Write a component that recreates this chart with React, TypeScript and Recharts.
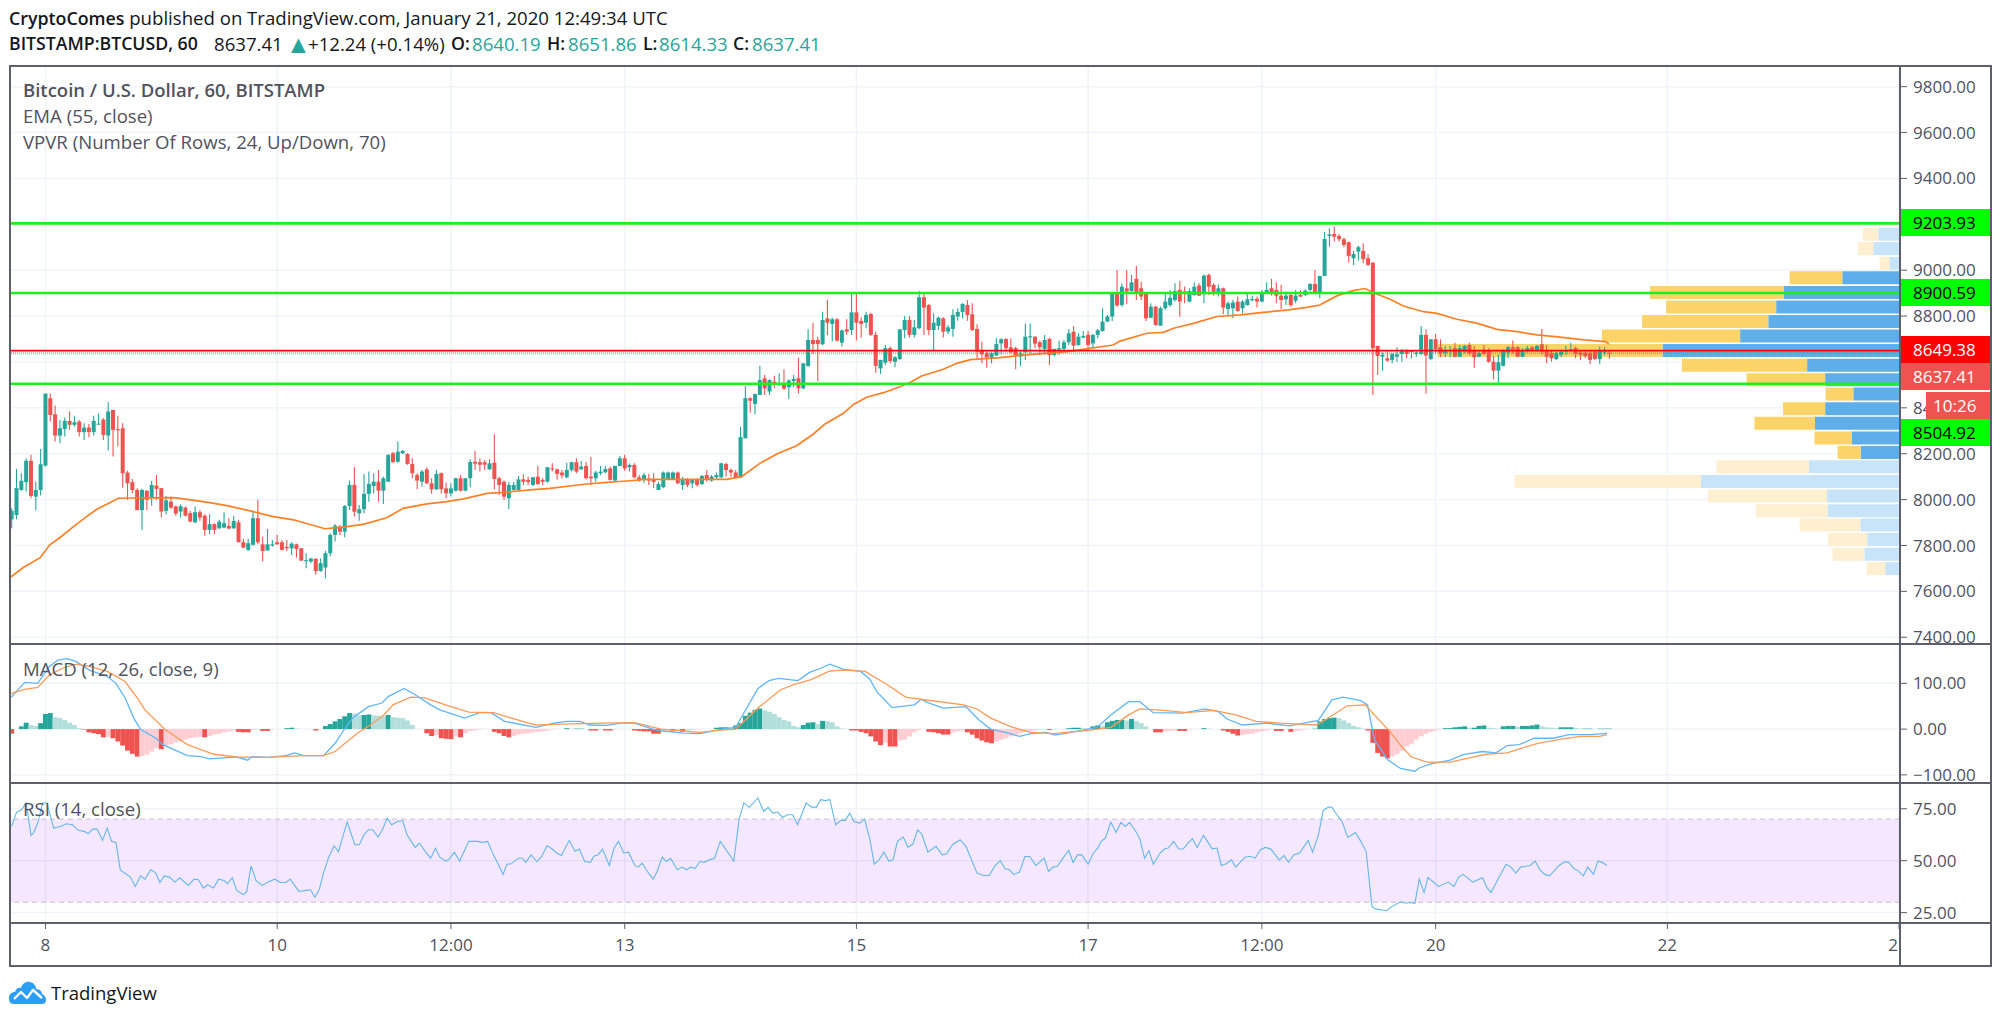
import React from "react";
import { ComposedChart, Bar, Line, XAxis, YAxis, CartesianGrid, ReferenceLine, ReferenceArea, Cell } from "recharts";

const FONT = '"Open Sans", "Noto Sans", sans-serif';
const TEXT = "#50535e";
const FRAME = "#5d606b";
const GRID = "#f0f3f7";
const UP = "#26a69a";
const DOWN = "#ef5350";
const GREEN_LINE = "#1df01d";

type C = [number, number, number, number];

// hourly candles [open, high, low, close], first bar 7 hours before the "8" tick
const candlesA: C[] = [
  [7914,7962,7875,7951],[7933,8134,7914,8050],[8042,8115,8038,8082],[8076,8180,8035,8169],[8169,8195,8006,8016],[8013,8079,7952,8042],[8042,8221,8018,8154],
  [8148,8462,8144,8462],[8442,8462,8340,8369],[8372,8410,8253,8279],[8279,8347,8246,8311],[8308,8358,8275,8343],[8343,8384,8304,8326],[8326,8366,8318,8337],[8340,8347,8275,8294],[8294,8333,8260,8314],[8314,8329,8272,8294],
  [8294,8366,8279,8343],[8327,8376,8326,8331],[8349,8355,8260,8282],[8279,8424,8214,8384],[8391,8391,8188,8304],[8307,8366,8231,8302],[8311,8333,8052,8115],[8118,8125,7999,8071],[8076,8090,8028,8042],[8042,8050,7954,7954],
  [7954,8047,7868,8042],[8038,8042,7955,7999],[8009,8082,7974,8064],[8061,8108,7999,8047],[8050,8050,7922,7948],[7951,8016,7936,7997],[7991,8013,7959,7965],[7970,7974,7930,7939],[7948,7980,7922,7971],[7965,7970,7926,7930],
  [7941,7951,7901,7904],[7901,7970,7897,7945],[7945,7955,7907,7922],[7930,7936,7842,7868],[7868,7936,7849,7893],[7893,7897,7849,7868],[7875,7912,7872,7904],[7878,7945,7875,7897],[7885,7919,7871,7874],[7875,7930,7872,7907],
  [7901,7912,7814,7814],[7814,7829,7788,7791],[7781,7829,7776,7810],[7803,7951,7800,7919],[7919,7999,7805,7814],[7805,7839,7730,7776],[7778,7872,7778,7805],[7800,7824,7795,7805],[7814,7846,7803,7805],[7814,7824,7778,7781],
  [7794,7824,7776,7788],[7788,7814,7759,7808],[7805,7808,7747,7785],[7788,7788,7733,7734],[7731,7766,7701,7736],[7730,7747,7723,7743],[7742,7744,7672,7689],[7689,7744,7686,7723],[7704,7776,7657,7766],[7766,7853,7752,7846],
];
const candlesB: C[] = [
  [7846,7894,7817,7886],[7882,7889,7846,7860],[7860,7977,7836,7972],[7972,8083,7955,8064],[8064,8141,7926,7947],[7940,7977,7908,7958],[7958,8112,7940,8025],[8025,8122,7991,8068],[8059,8115,8027,8078],[8078,8129,7991,8039],
  [8039,8100,7981,8093],[8078,8199,8078,8194],[8202,8209,8158,8164],[8165,8253,8161,8209],[8202,8216,8199,8212],[8199,8202,8152,8155],[8155,8180,8093,8115],[8107,8115,8045,8083],[8078,8129,8056,8122],[8132,8141,8068,8071],
  [8071,8093,8025,8045],[8045,8129,8042,8112],[8115,8118,8027,8045],[8049,8074,8006,8027],[8027,8071,8013,8049],[8039,8093,8035,8093],[8093,8107,8035,8039],[8039,8093,8035,8093],[8093,8176,8054,8164],[8165,8213,8129,8157],
  [8163,8180,8122,8152],[8163,8173,8129,8152],[8132,8177,8129,8158],[8161,8285,8045,8090],[8093,8100,8020,8064],[8078,8083,7998,8013],[8006,8078,7959,8064],[8042,8078,8039,8064],[8042,8103,8035,8088],[8088,8110,8064,8078],
  [8086,8100,8064,8077],[8064,8100,8059,8097],[8100,8147,8064,8068],[8086,8093,8064,8078],[8078,8141,8074,8141],[8136,8158,8122,8132],[8132,8136,8086,8112],[8118,8129,8093,8106],[8097,8161,8093,8129],[8129,8165,8122,8163],
  [8163,8180,8115,8122],[8132,8168,8129,8144],[8147,8165,8088,8093],[8100,8187,8064,8093],[8093,8126,8078,8118],[8115,8147,8107,8122],[8119,8147,8115,8133],[8136,8144,8083,8086],[8083,8147,8078,8147],[8147,8190,8144,8180],
  [8180,8195,8126,8136],[8141,8158,8122,8151],[8151,8158,8093,8097],[8097,8107,8078,8086],[8086,8117,8074,8107],[8091,8112,8064,8083],
];
const candlesC: C[] = [
  [8086,8115,8049,8077],[8042,8078,8042,8068],[8054,8122,8049,8118],[8089,8122,8086,8118],[8090,8122,8086,8118],[8118,8122,8068,8071],[8064,8100,8042,8086],[8086,8093,8054,8064],[8071,8088,8049,8086],[8088,8093,8056,8064],
  [8068,8107,8064,8103],[8107,8129,8078,8088],[8083,8107,8078,8100],[8097,8118,8093,8107],[8097,8161,8093,8158],[8155,8161,8100,8129],[8129,8136,8100,8118],[8118,8129,8093,8097],[8097,8318,8093,8272],[8267,8495,8267,8442],
  [8442,8446,8379,8431],[8417,8463,8372,8460],[8456,8583,8456,8521],[8529,8543,8456,8485],[8471,8524,8456,8521],[8514,8540,8485,8504],[8500,8551,8495,8504],[8504,8568,8478,8484],[8490,8524,8437,8519],[8517,8543,8490,8526],
  [8529,8619,8463,8485],[8485,8594,8481,8594],[8582,8742,8580,8696],[8696,8771,8635,8678],[8696,8710,8517,8678],[8677,8819,8674,8783],[8790,8870,8718,8771],[8766,8793,8689,8786],[8786,8790,8689,8693],[8684,8742,8667,8737],
  [8742,8786,8718,8732],[8739,8896,8718,8816],[8816,8896,8693,8771],[8779,8795,8707,8766],[8771,8819,8747,8805],[8809,8815,8713,8718],[8718,8732,8553,8583],[8572,8609,8548,8609],[8597,8674,8587,8660],[8660,8667,8594,8604],
  [8601,8626,8577,8620],[8613,8742,8609,8742],[8739,8800,8703,8783],[8783,8800,8707,8718],[8718,8783,8707,8751],[8747,8909,8742,8882],[8882,8896,8718,8837],[8848,8853,8718,8739],[8739,8812,8652,8771],[8757,8798,8739,8793],
  [8790,8795,8707,8732],[8732,8761,8722,8751],[8744,8830,8710,8805],[8798,8834,8780,8818],[8818,8856,8790,8853],[8848,8870,8780,8805],
];
const candlesD: C[] = [
  [8808,8856,8735,8739],[8744,8764,8616,8645],[8648,8689,8594,8633],[8638,8652,8575,8620],[8616,8645,8594,8638],[8628,8703,8626,8678],[8681,8703,8633,8699],[8700,8703,8645,8660],[8664,8703,8638,8642],[8660,8667,8568,8628],
  [8623,8652,8583,8638],[8642,8768,8609,8710],[8707,8768,8638,8712],[8710,8712,8660,8680],[8686,8692,8630,8664],[8657,8718,8633,8696],[8700,8706,8587,8630],[8630,8657,8626,8657],[8654,8692,8630,8660],[8657,8696,8645,8686],
  [8686,8744,8674,8725],[8732,8757,8645,8671],[8674,8725,8671,8710],[8706,8735,8703,8713],[8718,8735,8652,8674],[8681,8721,8657,8718],[8718,8744,8703,8738],[8735,8834,8732,8776],[8776,8805,8773,8798],[8798,8904,8779,8899],
  [8899,9001,8841,8846],[8848,8943,8841,8928],[8921,9001,8851,8907],[8909,8979,8907,8947],[8962,9018,8870,8904],[8921,8950,8870,8885],[8899,8904,8779,8790],[8793,8856,8790,8841],[8841,8845,8758,8761],[8758,8841,8758,8834],
  [8834,8904,8827,8863],[8848,8914,8841,8880],[8870,8943,8863,8909],[8914,8953,8798,8863],[8907,8928,8856,8899],[8863,8921,8860,8909],[8892,8947,8889,8928],[8933,8943,8888,8889],[8895,8982,8856,8976],[8979,8986,8892,8928],
  [8936,8943,8889,8904],[8904,8938,8885,8921],[8921,8924,8808,8837],[8831,8863,8805,8856],[8834,8870,8790,8859],[8863,8885,8819,8822],[8834,8870,8812,8863],[8848,8899,8846,8873],[8869,8889,8863,8875],[8875,8885,8837,8863],
  [8863,8914,8860,8899],[8899,8947,8895,8914],[8921,8962,8889,8899],[8914,8947,8856,8889],[8889,8936,8831,8870],[8873,8907,8848,8889],[8892,8904,8841,8848],
];
const candlesE: C[] = [
  [8867,8914,8856,8889],[8892,8914,8882,8885],[8892,8917,8888,8911],[8914,8943,8907,8940],[8940,9001,8899,8902],[8902,8975,8878,8975],[8975,9168,8975,9136],[9149,9183,9103,9156],[9158,9190,9125,9146],[9149,9158,9125,9135],
  [9135,9143,9100,9110],[9122,9125,9033,9062],[9052,9085,9023,9071],[9081,9106,9042,9100],[9084,9117,9030,9048],[9052,9069,9018,9023],[9033,9033,8456,8660],[8670,8670,8543,8626],[8623,8641,8562,8631],[8616,8648,8601,8606],
  [8609,8638,8594,8635],[8623,8664,8601,8633],[8635,8655,8601,8649],[8649,8655,8616,8635],[8644,8652,8616,8648],[8635,8649,8623,8641],[8635,8757,8631,8718],[8718,8742,8463,8628],[8613,8699,8609,8699],[8699,8722,8638,8655],
  [8664,8699,8620,8638],[8638,8670,8620,8652],[8648,8670,8620,8652],[8660,8684,8620,8623],[8623,8674,8620,8660],[8645,8674,8638,8670],[8674,8684,8631,8638],[8649,8670,8575,8620],[8623,8649,8620,8638],[8652,8674,8631,8635],
  [8652,8660,8597,8601],[8601,8626,8524,8562],[8562,8631,8507,8599],[8583,8655,8580,8652],[8641,8670,8616,8664],[8664,8693,8635,8655],[8664,8670,8620,8623],[8623,8660,8620,8652],[8649,8671,8641,8660],[8664,8670,8645,8649],
  [8649,8674,8645,8670],[8677,8744,8631,8645],[8649,8674,8594,8623],[8638,8649,8601,8616],[8612,8645,8609,8638],[8631,8652,8620,8645],[8645,8670,8631,8652],[8649,8684,8645,8655],[8660,8667,8616,8635],[8641,8652,8609,8631],
  [8641,8648,8616,8626],[8638,8649,8591,8609],[8645,8652,8609,8613],[8612,8667,8590,8649],[8641,8664,8631,8652],[8640.19,8651.86,8614.33,8637.41],
];

// EMA (55, close): [hour, price]
const emaPoints: [number, number][] = [
  [-7.35,7660],[-4.6,7704],[-1.1,7747],[0.9,7803],[3,7835],[5.8,7882],[8.5,7926],[10.7,7959],[12.7,7980],[15.1,8006],[17.5,8007],[26.5,8009],[28.6,8003],[34,7987],[37.6,7974],[42.4,7951],[47.2,7926],[51.4,7912],[57.9,7873],[62.4,7882],[65.8,7892],[70.7,7921],[74.1,7962],[79,7981],[83.1,7991],[86.6,8003],[91.5,8027],[94.2,8030],[100.4,8042],[104.5,8049],[112.1,8068],[116.3,8075],[120.4,8081],[124.5,8088],[141.1,8088],[144.2,8100],[148,8158],[151.5,8199],[155.6,8235],[159.1,8286],[161.5,8330],[165.3,8376],[167.4,8415],[170.1,8446],[173.6,8466],[177,8492],[179.1,8510],[181.5,8539],[186,8568],[188.8,8594],[191.6,8610],[197.8,8619],[202.6,8630],[211.6,8645],[221.2,8674],[222.6,8691],[228.2,8725],[231.6,8729],[233.7,8747],[237.8,8768],[242.7,8798],[247.5,8805],[252.3,8816],[257.5,8827],[261.3,8838],[264,8848],[267.5,8888],[270.9,8911],[273.4,8920],[275.1,8902],[278.6,8873],[281.3,8844],[285.5,8819],[288.3,8812],[292.4,8786],[296.5,8769],[300.7,8742],[304.9,8732],[309,8718],[313.8,8708],[318.7,8696],[323.2,8689],[323.9,8678],
];

const macdLine: [number, number][] = [
  [-7.1,70],[-4.3,102],[-1.6,100],[0.8,137],[2.6,151],[4.4,154],[6.3,148],[9.1,129],[12.8,115],[14.6,100],[16.5,68],[18.3,24],[19.7,-1],[22.9,-20],[24.3,-34],[29.4,-58],[32.2,-60],[34,-65],[36.8,-63],[39.6,-61],[41.9,-68],[42.8,-60],[46,-62],[49.8,-58],[51.6,-52],[53.5,-58],[57.6,-58],[60,-31],[61.8,-2],[63.6,24],[66.9,49],[69.7,57],[71,71],[74.3,89],[76.6,75],[79.8,53],[81.7,42],[86.8,24],[90,36],[92.3,36],[95.1,17],[101.6,4],[105.3,13],[108,17],[110.8,17],[112.7,9],[116.4,8],[119.2,13],[122,13],[126.6,-3],[132.1,-9],[135.6,-10],[140.2,0],[143,4],[147.6,89],[149.9,106],[151.8,111],[155.9,106],[158.3,124],[160.6,133],[162.5,142],[165.2,131],[168.9,126],[170.8,109],[172.2,82],[175.4,47],[180,53],[181.4,65],[182.8,58],[186,46],[190.7,49],[193.4,20],[195.8,0],[199.5,-9],[201.8,-16],[204.1,-10],[207.3,-7],[209.1,-13],[212.4,-7],[216,0],[217.9,4],[220.7,31],[224.4,60],[226.7,60],[229.5,36],[235.5,35],[240.2,44],[243,38],[244.8,22],[248,9],[253.1,13],[257.7,7],[263.7,19],[266.5,64],[268.8,70],[272.5,62],[273.9,53],[275.3,-23],[278.1,-67],[280.7,-86],[283.7,-92],[284.6,-85],[287,-76],[291,-68],[293.7,-56],[297.7,-49],[300.5,-52],[302.8,-36],[305.3,-34],[308.4,-20],[312.4,-20],[315.6,-12],[320.3,-12],[323.5,-9.5],
];
const signalLine: [number, number][] = [
  [-7.1,78],[-4.3,87],[-1.6,91],[0.8,118],[3.5,133],[6.3,142],[9.1,137],[12.8,126],[16.5,104],[19.3,64],[20.6,42],[24.8,-1],[29.4,-34],[34.9,-55],[39.6,-61],[46,-62],[53.5,-58],[57.6,-58],[60,-49],[64.6,-9],[67.3,9],[70.1,31],[72,53],[75.7,70],[78.4,69],[84,49],[87.7,37],[92.8,36],[99.7,14],[101.6,9],[107.1,11],[115.4,13],[122,14],[127.5,0],[135.6,-7],[139.3,-3],[143,0],[147.6,46],[152.3,86],[155,97],[158.6,108],[162.5,127],[165.2,129],[169.8,126],[174.4,97],[178.2,70],[183.7,62],[190.2,53],[193,44],[195.8,24],[200.4,4],[204.1,-7],[208.7,-10],[216.1,-3],[220.7,4],[224.4,31],[226.7,44],[231.8,41],[236.4,36],[242,41],[246.6,31],[250.8,17],[255.9,13],[263.3,9],[265.1,20],[269.7,51],[273.4,53],[275.3,31],[278.5,-5],[280.7,-35],[283,-61],[286.2,-72],[291,-72],[295.7,-61],[298.5,-55],[302.8,-52],[306,-41],[309.2,-31],[314,-22],[318,-16],[321.9,-16],[323.5,-12],
];
// one value per candle
const macdHist: number[] = [
  -10,0,6,14,9,7,13,
  33,35,26,24,20,14,9,2,-1,-7,
  -9,-11,-18,-17,-20,-27,-36,-47,-54,-60,
  -59,-56,-49,-41,-44,-36,-33,-29,-27,-23,
  -20,-18,-17,-18,-15,-12,-10,-7,-5,-3,
  -6,-7,-7,-2,-1,-4,-4,-1,0,0,
  2,3,1,0,0,0,-3,-1,7,11,
  17,22,28,35,34,30,31,32,30,29,
  28,31,26,25,24,19,9,0,0,-9,
  -15,-13,-20,-21,-22,-16,-18,-9,-4,-3,
  -1,0,0,-6,-9,-15,-18,-15,-12,-10,
  -9,-7,-6,-5,-3,-1,0,0,2,1,
  1,1,0,-3,-3,-1,-3,-3,-1,0,
  0,0,-3,-4,-5,-5,-10,-10,-5,-3,
  -5,-3,-6,-3,-2,-1,0,0,0,3,
  4,4,3,8,13,29,36,42,45,41,
  38,33,26,20,17,7,4,9,14,15,
  11,18,17,15,6,1,0,-3,-3,-6,
  -9,-16,-27,-35,-30,-38,-38,-25,-23,-16,
  -7,-2,0,-6,-7,-9,-12,-12,-7,-5,
  -3,-7,-12,-20,-25,-29,-31,-27,-23,-20,
  -16,-12,-9,-7,-4,-3,-1,0,-2,-1,
  0,0,2,3,3,2,1,6,8,7,
  15,18,20,20,19,22,18,13,6,0,
  -7,-7,-5,-4,-3,-4,-4,-1,0,0,
  2,1,0,0,-3,-6,-10,-14,-13,-11,
  -10,-7,-5,-3,-1,-4,-4,-1,-6,-4,
  -3,-1,0,1,17,22,24,25,24,19,
  13,7,4,1,-3,-30,-52,-60,-64,-60,
  -55,-48,-38,-32,-23,-16,-10,-6,-3,-1,
  2,2,4,5,6,3,3,7,8,3,
  2,1,6,7,7,5,7,7,8,10,
  6,4,3,2,4,4,4,3,1,1,
  1,0,1,1,1,
];

const rsiPoints: [number, number][] = [
  [-7,66.5],[-6,73.3],[-5,74.5],[-4,77.8],[-3,62.2],[-2.5,63.3],[-1.6,68.1],[-.6,77.8],[.3,77.8],[1.7,65.7],[3.1,66.5],[4.3,67.8],[5.6,67.3],[6.8,64.6],[8,64.1],[8.9,63],[9.8,65.2],[10.7,65.2],[11.8,59.8],[12.8,65.7],[13.7,59.3],[14.6,58.8],[15.5,45.6],[17.6,42.1],[18.6,37.6],[19.7,42.7],[20.6,41.1],[21.8,45.6],[22.8,44.3],[23.7,39.5],[24.6,42.7],[25.7,42.1],[26.8,39.7],[27.8,41.8],[29.6,38.1],[30.8,41.1],[31.7,40.8],[32.7,36.8],[33.6,38.4],[34.8,36.8],[35.9,41.1],[37,40.5],[37.7,38.9],[38.7,41.8],[39.6,35.7],[41,33.7],[41.7,35.2],[42.6,47.5],[43.6,40.5],[44.9,38.1],[46.1,39.7],[47.5,41.1],[48.7,39.5],[49.8,39.5],[50.7,41.1],[52.5,35.2],[53.9,35.7],[54.9,36],[55.8,32.4],[56.7,36],[57.6,44],[58.6,51.2],[59.8,57.2],[60.7,54.3],[61.8,63.3],[62.5,68.6],[64.1,57.7],[65,57.7],[66,62.5],[66.9,64.9],[67.8,64.9],[68.9,61.4],[69.8,64.9],[70.8,70.5],[71.7,67.3],[72.9,68.9],[74,69.2],[74.9,62.5],[75.9,58.8],[76.6,56.4],[77.5,58.5],[78.4,55.3],[79.8,51.2],[80.8,56],[81.7,51.7],[82.9,49.8],[83.5,50.4],[84.7,54.1],[85.8,49.8],[87.7,59.3],[89.5,59.3],[90.5,58.8],[91.6,59.3],[92.8,52.8],[93.7,48.8],[94.8,43.4],[95.6,48.3],[96.5,48.5],[97.9,51.2],[98.8,51.2],[99.5,49.2],[100.6,52.8],[101.8,49.6],[102.7,51.7],[103.9,57.2],[104.8,56],[105.9,53.7],[106.9,52.5],[108.5,59.8],[109.7,54.5],[110.6,55.6],[111.7,49.6],[112.9,49.2],[113.6,52.1],[114.5,52.8],[115.4,55.6],[116.8,47.7],[117.8,56],[118.7,59.3],[119.8,53.7],[120.8,54.1],[122.1,47.7],[122.8,46.9],[123.6,48.8],[124.7,44.8],[125.9,41.1],[126.7,44.8],[127.8,51.7],[128.6,49.6],[129.5,51.2],[130.9,45.6],[131.9,46.9],[132.8,45.6],[133.7,46.9],[134.6,46.3],[135.6,49.6],
  [136.5,49.2],[137.5,50.4],[138.6,51.2],[139.8,59.3],[142.6,49.8],[143.7,70],[144.7,77.8],[145.8,75.7],[147.6,80.2],[148.8,73.7],[149.7,75.7],[150.7,72.9],[151.7,73.4],[152.7,70.8],[153.7,72.1],[154.8,72.1],[155.8,67.3],[157.6,77.8],[158.7,75.8],[159.7,75.8],[160.6,79.4],[161.5,78.9],[162.5,79.4],[163.7,67.3],[164.8,69.4],[165.7,69.4],[166.6,72.9],[167.5,68.9],[168.7,68.1],[169.7,70],[170.8,60.1],[171.7,48.3],[172.6,50.1],[173.7,54.1],[174.7,49.8],[175.6,50.4],[176.5,59.3],[177.7,61.4],[178.7,56.5],[179.7,58],[180.7,64.9],[181.6,62.5],[182.8,54.1],[184.5,56.9],[185.8,52.8],[186.7,53.3],[187.9,57.7],[189.5,60.1],[190.7,56.9],[193,44],[194.4,42.9],[195.5,42.9],[196.7,47.5],[197.8,50],[198.8,46.1],[199.7,45.6],[200.6,43.4],[201.8,44.5],[202.9,52],[203.9,52],[205.2,47.7],[206.9,51.2],[207.8,44.8],[208.7,46.9],[209.6,47.2],[210.8,51.2],[212,54.9],[212.9,49.2],[213.8,52.8],[214.7,52.8],[216,48.3],[217.1,53.7],[218,56],[218.7,59.3],[219.6,60.9],[220.7,68.6],[221.8,63.6],[222.8,68.4],[223.7,66.5],[224.6,68.4],[225.8,64.4],[226.7,60.6],[227.7,51.2],[228.6,54.9],[229.5,48.3],[230.9,53.7],[231.8,55.6],[232.6,56.1],[233.7,59.3],[234.8,55.6],[235.7,55.6],[236.6,58.2],[237.6,60.6],[238.6,56.4],[239.9,62.2],[241.7,55.7],[242.7,56.1],[243.6,47.7],[244.6,48.5],[245.7,50.4],[246.6,46.9],[248.5,51.7],[249.6,52.1],[250.6,51.2],[251.7,55.3],[252.7,56.4],[253.8,55.7],[255.6,50.4],[256.6,52.5],[257.5,49.2],[258.6,52.8],[259.8,53.7],[261.6,59.8],[262.5,54.1],[263.7,62.2],[264.7,74.2],[265.8,75.8],[266.5,75.7],[267.4,72.6],[268.6,68.9],[269.8,61.2],[271.4,63.6],[272.5,59.3],[273.6,54.5],[274.8,28],[275.5,26.8],[277.8,25.9],[279,28],[280.7,30.2],
  [281.8,29.5],[282.6,29.9],[283.7,29.5],[284.6,41.1],[285.6,34.7],[286.4,41.9],[288.6,37.6],[290.6,39.7],[291.8,37.6],[292.8,42.1],[293.7,43.4],[295.7,39.7],[297.7,41.8],[298.7,36.8],[299.5,34.7],[300.5,39.2],[302.6,48.3],[303.6,46.9],[304.6,44],[305.6,46.9],[307.6,47.7],[308.6,49.8],[309.6,45.6],[310.6,43.4],[311.6,42.7],[313.6,47.7],[314.6,49.3],[315.5,49.3],[316.7,46.1],[317.5,45.1],[318.6,42.7],[319.5,46.9],[320.7,43.4],[321.6,49.8],[322.5,49.2],[323.5,47.7],
];

// volume profile rows
const vpPrices = [9158,9095,9031,8968,8904,8841,8778,8714,8651,8587,8524,8461,8397,8334,8270,8207,8144,8080,8017,7953,7890,7827,7763,7700];
const vpUp = [4.7,5.8,2.3,12.5,25.1,26.8,28.5,34.6,51.4,20.1,16.2,10.1,16.2,18.4,10.4,8.5,19.7,43.1,15.8,15.7,8.6,7.1,7.7,3.2];
const vpDown = [3.3,3.3,2.1,11.4,29,23.8,27.3,29.9,48.6,27.1,17,6,9.1,13.1,8.1,5,20,40.3,25.8,15.5,13.1,8.5,6.9,4];
const vpInValueArea = [0,0,0,1,1,1,1,1,1,1,1,1,1,1,1,1,0,0,0,0,0,0,0,0];

const priceTicks = [9800,9600,9400,9200,9000,8800,8600,8400,8200,8000,7800,7600,7400];
const priceTickLabels = ["9800.00","9600.00","9400.00","","9000.00","8800.00","","84","8200.00","8000.00","7800.00","7600.00","7400.00"];
const macdTicks = [100,0,-100];
const rsiTicks = [75,50,25];
const timeTicks = [0,48,84,120,168,216,252,288,336,384];
const timeLabels = ["8","10","12:00","13","15","17","12:00","20","22","2"];
const greenLevels = [9203.93,8900.59,8504.92];
const lastPrice = 8637.41;
const redLevel = 8649.38;

const priceTags = [
  { text: "9203.93", top: 209, bg: "#00ff00", color: "#000" },
  { text: "8900.59", top: 279, bg: "#00ff00", color: "#000" },
  { text: "8649.38", top: 336, bg: "#ff0000", color: "#fff" },
  { text: "8637.41", top: 363, bg: "#ef5350", color: "#fff" },
  { text: "8504.92", top: 419, bg: "#00ff00", color: "#000" },
];

const allCandles = [...candlesA, ...candlesB, ...candlesC, ...candlesD, ...candlesE];
const START = -7;
const priceRows = allCandles.map((c, i) => ({ hour: START + i, open: c[0], high: c[1], low: c[2], close: c[3], range: [c[2], c[1]] }));
const histColour = (v: number, prev: number) => {
  const strong = v >= 0 ? v >= prev : v <= prev;
  return v >= 0 ? (strong ? UP : "#b2dfdb") : (strong ? DOWN : "#ffcdd2");
};
const histRows = macdHist.map((v, i) => ({ hour: START + i, hist: v, colour: histColour(v, i > 0 ? macdHist[i - 1] : 0) }));
const vpRows = vpPrices.map((p, i) => ({ price: p, up: vpUp[i], down: vpDown[i], strong: vpInValueArea[i] }));
const toRows = (pts: [number, number][]) => pts.map(([hour, value]) => ({ hour, value }));

const X_DOMAIN: [number, number] = [-7.35, 384.2];
const PRICE_DOMAIN: [number, number] = [7370.6, 9890];
const MACD_DOMAIN: [number, number] = [-117.8, 186];
const RSI_DOMAIN: [number, number] = [20, 87.4];
const CHART_W = 1980;
const BODY_FONT = 18.6;

const axisTick = { fill: TEXT, fontSize: 17, fontFamily: FONT };
const fix2 = (v: number) => (v < 0 ? "\u2212" + Math.abs(v).toFixed(2) : v.toFixed(2));
const priceLabel = (v: number) => priceTickLabels[priceTicks.indexOf(v)];

const CandleShape = (props: any) => {
  const { x, y, width, height, payload } = props;
  if (!payload) return null;
  const cx = x + width / 2;
  const span = payload.high - payload.low || 1;
  const unit = Math.abs(height) / span;
  const yOf = (p: number) => y + (payload.high - p) * unit;
  const up = payload.close >= payload.open;
  const top = yOf(Math.max(payload.open, payload.close));
  const bot = yOf(Math.min(payload.open, payload.close));
  const col = up ? UP : DOWN;
  return (
    <g>
      <line x1={cx} x2={cx} y1={y} y2={y + Math.abs(height)} stroke={col} strokeWidth={1.1} />
      <rect x={cx - 2} y={top} width={4} height={Math.max(bot - top, 1)} fill={col} />
    </g>
  );
};

const HistShape = (props: any) => {
  const { x, y, width, height, payload } = props;
  if (!payload || !height) return null;
  const top = height < 0 ? y + height : y;
  return <rect x={x + width / 2 - 2.45} y={top} width={4.9} height={Math.abs(height)} fill={payload.colour} />;
};

const TimeTick = (props: any) => {
  const { x, y, index } = props;
  const label = timeLabels[index];
  const isLast = index === timeLabels.length - 1;
  return (
    <text x={isLast ? x - 1 : x} y={y + 20} textAnchor={isLast ? "end" : "middle"} fill={TEXT} fontSize={17} fontFamily={FONT}>
      {label}
    </text>
  );
};

const Pane = ({ top, height, z, children }: any) => (
  <div style={{ position: "absolute", left: 10, top, width: CHART_W, height, zIndex: z }}>{children}</div>
);

const Abs = ({ left, top, children, style }: any) => (
  <div style={{ position: "absolute", left, top, whiteSpace: "nowrap", lineHeight: 1, fontFamily: FONT, ...style }}>{children}</div>
);

const Logo = () => (
  <svg width={38} height={24} viewBox="0 0 38 24" style={{ position: "absolute", left: 9, top: 981 }}>
    <path d="M5 23 C1 23 0 20 0 17 C0 13 3 11 6 11 C7 7 10 6 12 7 C13 3 17 0 21 1 C25 2 27 5 27 8 C31 8 33 11 33 13 C36 14 37 17 37 19 C37 22 35 23 33 23 Z" fill="#2a9df4" />
    <path d="M5 18 L12 11 L18 17 L24 9 L33 17" fill="none" stroke="#fff" strokeWidth={2.4} strokeLinejoin="round" />
  </svg>
);

export default function App() {
  return (
    <div style={{ position: "absolute", left: 0, top: 0, width: 2000, height: 1020, background: "#fff", overflow: "hidden" }}>
      {/* header */}
      <Abs left={9} top={9} style={{ fontSize: BODY_FONT, color: "#131722" }}>
        <b style={{ fontWeight: 600, fontSize: 17.8 }}>CryptoComes</b> published on TradingView.com, January 21, 2020 12:49:34 UTC
      </Abs>
      <Abs left={9} top={35} style={{ fontSize: 17.7, color: "#131722", fontWeight: 600 }}>BITSTAMP:BTCUSD, 60</Abs>
      <Abs left={214} top={35} style={{ fontSize: BODY_FONT, color: "#131722" }}>8637.41</Abs>
      <Abs left={286} top={31} style={{ fontSize: 25, color: UP }}>▲</Abs>
      <Abs left={308} top={35} style={{ fontSize: BODY_FONT, color: "#131722" }}>+12.24 (+0.14%)</Abs>
      <Abs left={451} top={35} style={{ fontSize: 17.7, color: "#131722", fontWeight: 600 }}>O:</Abs>
      <Abs left={472} top={35} style={{ fontSize: BODY_FONT, color: UP }}>8640.19</Abs>
      <Abs left={547} top={35} style={{ fontSize: 17.7, color: "#131722", fontWeight: 600 }}>H:</Abs>
      <Abs left={568} top={35} style={{ fontSize: BODY_FONT, color: UP }}>8651.86</Abs>
      <Abs left={643} top={35} style={{ fontSize: 17.7, color: "#131722", fontWeight: 600 }}>L:</Abs>
      <Abs left={659} top={35} style={{ fontSize: BODY_FONT, color: UP }}>8614.33</Abs>
      <Abs left={733} top={35} style={{ fontSize: 17.7, color: "#131722", fontWeight: 600 }}>C:</Abs>
      <Abs left={752} top={35} style={{ fontSize: BODY_FONT, color: UP }}>8637.41</Abs>

      {/* price pane: grid, volume profile, then candles */}
      <Pane top={66} height={578} z={1}>
        <ComposedChart width={CHART_W} height={578} data={priceRows} margin={{ top: 0, right: 90, bottom: 0, left: 0 }}>
          <XAxis dataKey="hour" type="number" domain={X_DOMAIN} hide allowDataOverflow />
          <YAxis type="number" domain={PRICE_DOMAIN} hide allowDataOverflow />
          <CartesianGrid stroke={GRID} strokeWidth={1.5} horizontalValues={priceTicks} verticalValues={timeTicks} />
        </ComposedChart>
      </Pane>
      <Pane top={66} height={578} z={2}>
        <ComposedChart layout="vertical" width={CHART_W} height={578} data={vpRows} margin={{ top: 0, right: 90, bottom: 0, left: 0 }}>
          <XAxis type="number" domain={[0, 409]} reversed hide allowDataOverflow />
          <YAxis type="number" dataKey="price" domain={PRICE_DOMAIN} reversed hide allowDataOverflow />
          <Bar dataKey="up" stackId="vp" barSize={13} isAnimationActive={false}>
            {vpRows.map((r, i) => <Cell key={i} fill={r.strong ? "#5eaeea" : "#c8e4f8"} />)}
          </Bar>
          <Bar dataKey="down" stackId="vp" barSize={13} isAnimationActive={false}>
            {vpRows.map((r, i) => <Cell key={i} fill={r.strong ? "#fbd369" : "#fdefcf"} />)}
          </Bar>
        </ComposedChart>
      </Pane>
      <Pane top={66} height={578} z={3}>
        <ComposedChart width={CHART_W} height={578} data={priceRows} margin={{ top: 0, right: 0, bottom: 0, left: 0 }}>
          <XAxis dataKey="hour" type="number" domain={X_DOMAIN} hide allowDataOverflow />
          <YAxis orientation="right" width={90} type="number" domain={PRICE_DOMAIN} ticks={priceTicks} interval={0} tick={axisTick} tickFormatter={priceLabel} tickSize={7} tickMargin={6} stroke={FRAME} allowDataOverflow />
          <Bar dataKey="range" barSize={4} shape={CandleShape} isAnimationActive={false} />
          <Line data={toRows(emaPoints)} dataKey="value" stroke="#ff8024" strokeWidth={1.7} dot={false} isAnimationActive={false} />
          <ReferenceLine y={lastPrice} stroke="#ef5350" strokeOpacity={0.6} strokeWidth={2} strokeDasharray="1 1" />
          {greenLevels.map((v) => <ReferenceLine key={v} y={v} stroke={GREEN_LINE} strokeWidth={2.6} />)}
          <ReferenceLine y={redLevel} stroke="#ff0000" strokeWidth={1.8} />
        </ComposedChart>
      </Pane>

      {/* MACD pane */}
      <Pane top={644} height={139} z={1}>
        <ComposedChart width={CHART_W} height={139} data={histRows} margin={{ top: 0, right: 0, bottom: 0, left: 0 }}>
          <XAxis dataKey="hour" type="number" domain={X_DOMAIN} hide allowDataOverflow />
          <YAxis orientation="right" width={90} type="number" domain={MACD_DOMAIN} ticks={macdTicks} interval={0} tick={axisTick} tickFormatter={fix2} tickSize={7} tickMargin={6} stroke={FRAME} allowDataOverflow />
          <CartesianGrid stroke={GRID} strokeWidth={1.5} horizontalValues={macdTicks} verticalValues={timeTicks} />
          <Bar dataKey="hist" barSize={5} shape={HistShape} isAnimationActive={false} />
          <Line data={toRows(macdLine)} dataKey="value" stroke="#5fb6f5" strokeWidth={1.3} dot={false} isAnimationActive={false} />
          <Line data={toRows(signalLine)} dataKey="value" stroke="#ff9a56" strokeWidth={1.3} dot={false} isAnimationActive={false} />
        </ComposedChart>
      </Pane>

      {/* RSI pane with the time axis */}
      <Pane top={783} height={182} z={1}>
        <ComposedChart width={CHART_W} height={182} margin={{ top: 0, right: 0, bottom: 0, left: 0 }}>
          <XAxis dataKey="hour" type="number" domain={X_DOMAIN} ticks={timeTicks} interval={0} height={42} tick={TimeTick} tickSize={6} stroke={FRAME} allowDataOverflow />
          <YAxis orientation="right" width={90} type="number" domain={RSI_DOMAIN} ticks={rsiTicks} interval={0} tick={axisTick} tickFormatter={fix2} tickSize={7} tickMargin={6} stroke={FRAME} allowDataOverflow />
          <CartesianGrid stroke={GRID} strokeWidth={1.5} horizontalValues={rsiTicks} verticalValues={timeTicks} />
          <ReferenceArea y1={30} y2={70} fill="#9915ff" fillOpacity={0.1} stroke="none" />
          <ReferenceLine y={70} stroke="#c9bccf" strokeDasharray="5 4" />
          <ReferenceLine y={30} stroke="#c9bccf" strokeDasharray="5 4" />
          <Line data={toRows(rsiPoints)} dataKey="value" stroke="#62b9e8" strokeWidth={1.1} dot={false} isAnimationActive={false} />
        </ComposedChart>
      </Pane>

      {/* frame */}
      <div style={{ position: "absolute", left: 9, top: 65, width: 1979, height: 898, border: `2px solid ${FRAME}`, zIndex: 5, pointerEvents: "none" }} />
      <div style={{ position: "absolute", left: 9, top: 643, width: 1981, height: 2, background: FRAME, zIndex: 5 }} />
      <div style={{ position: "absolute", left: 9, top: 782, width: 1981, height: 2, background: FRAME, zIndex: 5 }} />
      <div style={{ position: "absolute", left: 9, top: 922, width: 1981, height: 2, background: FRAME, zIndex: 5 }} />
      <div style={{ position: "absolute", left: 1899, top: 65, width: 2, height: 900, background: FRAME, zIndex: 5 }} />

      {/* price tags */}
      {priceTags.map((t) => (
        <div key={t.text} style={{ position: "absolute", left: 1901, top: t.top, width: 89, height: 27, background: t.bg, color: t.color, fontFamily: FONT, fontSize: 17, lineHeight: "27px", paddingLeft: 12, boxSizing: "border-box", zIndex: 6 }}>{t.text}</div>
      ))}
      <div style={{ position: "absolute", left: 1926, top: 392, width: 64, height: 27, background: "#ef5350", color: "#fff", fontFamily: FONT, fontSize: 17, lineHeight: "27px", paddingLeft: 7, boxSizing: "border-box", zIndex: 6 }}>10:26</div>

      {/* legends */}
      <Abs left={23} top={81} style={{ fontSize: 18.5, color: TEXT, fontWeight: 600, zIndex: 7 }}>Bitcoin / U.S. Dollar, 60, BITSTAMP</Abs>
      <Abs left={23} top={107} style={{ fontSize: BODY_FONT, color: TEXT, zIndex: 7 }}>EMA (55, close)</Abs>
      <Abs left={23} top={133} style={{ fontSize: BODY_FONT, color: TEXT, zIndex: 7 }}>VPVR (Number Of Rows, 24, Up/Down, 70)</Abs>
      <Abs left={23} top={660} style={{ fontSize: BODY_FONT, color: TEXT, zIndex: 7 }}>MACD (12, 26, close, 9)</Abs>
      <Abs left={23} top={800} style={{ fontSize: BODY_FONT, color: TEXT, zIndex: 7 }}>RSI (14, close)</Abs>

      <Logo />
      <Abs left={51} top={984} style={{ fontSize: 18.5, color: "#131722" }}>TradingView</Abs>
    </div>
  );
}
